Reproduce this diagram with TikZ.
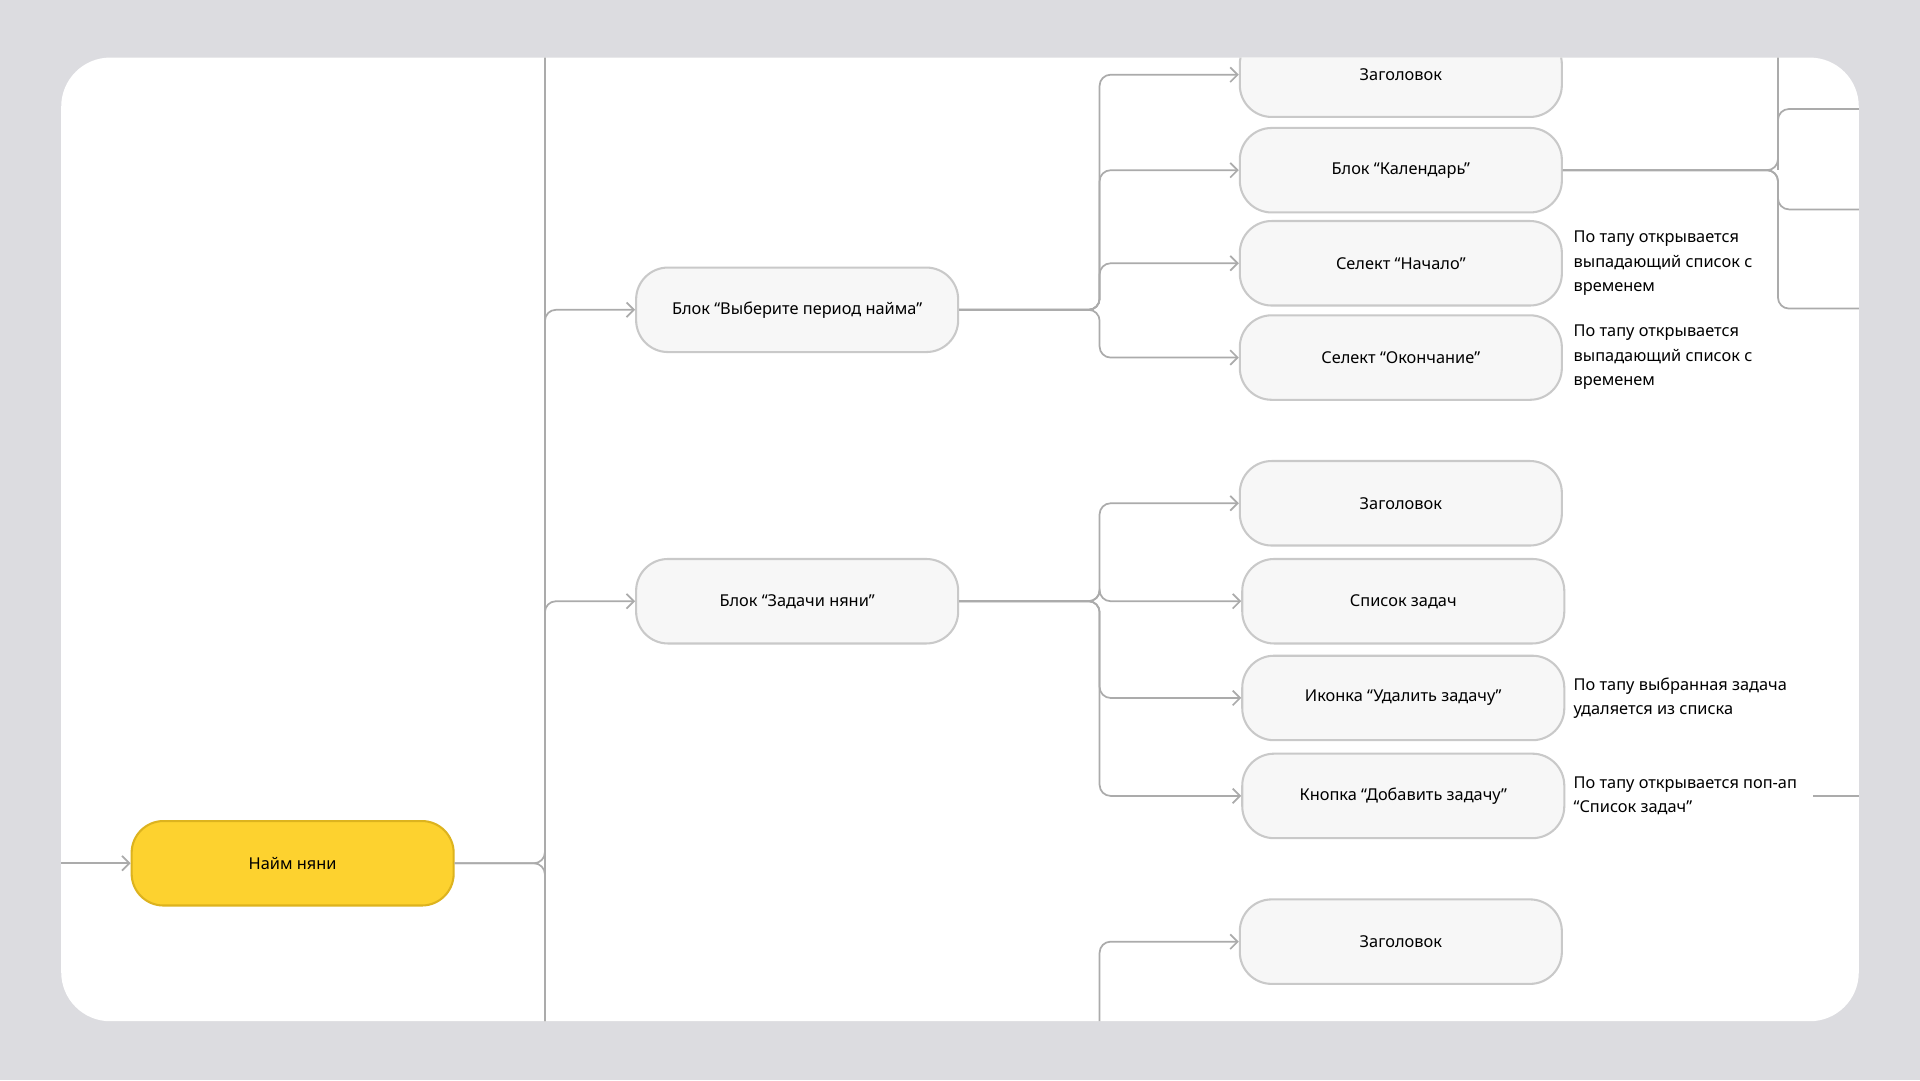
\documentclass[tikz,border=0pt]{standalone}
\usepackage{fontspec}
\setmainfont{Noto Sans}
\usepackage{tikz}
\usetikzlibrary{arrows.meta}
\definecolor{bggray}{HTML}{DCDCE0}
\definecolor{boxfill}{HTML}{F7F7F7}
\definecolor{boxdraw}{HTML}{C9C9C9}
\definecolor{linegray}{HTML}{ABABAB}
\definecolor{rootfill}{HTML}{FDD22F}
\definecolor{rootdraw}{HTML}{DDB31E}

\tikzset{
  block/.style={draw=boxdraw, line width=2.4pt, fill=boxfill, rounded corners=1.3cm,
    minimum width=13.15cm, minimum height=3.45cm, font=\fontsize{19}{24}\selectfont},
  rootbox/.style={block, draw=rootdraw, fill=rootfill},
  note/.style={anchor=west, align=left, inner sep=0pt, font=\fontsize{19}{28.5}\selectfont},
  link/.style={draw=linegray, line width=2pt, rounded corners=0.45cm},
  arr/.style={link, -{Straight Barb[length=0.3cm, width=0.6cm, line width=2pt]}}
}

\begin{document}
\begin{tikzpicture}[x=0.05cm, y=-0.05cm]
        \fill[bggray] (0,0) rectangle (1568,882);
        \useasboundingbox (0,0) rectangle (1568,882);
        \fill[white, rounded corners=2cm] (50,47) rectangle (1518,834);

        \begin{scope}
        \clip[rounded corners=2cm] (50,47) rectangle (1518,834);

        % Узлы
        \node[rootbox] (root) at (239,705) {Найм няни};
        \node[block] (period) at (651,253) {Блок “Выберите период найма”};
        \node[block] (tasks)  at (651,491) {Блок “Задачи няни”};

        \node[block] (head1)  at (1144,61)  {Заголовок};
        \node[block] (cal)    at (1144,139) {Блок “Календарь”};
        \node[block] (start)  at (1144,215) {Селект “Начало”};
        \node[block] (finish) at (1144,292) {Селект “Окончание”};

        \node[block] (head2)  at (1144,411) {Заголовок};
        \node[block] (list)   at (1146,491) {Список задач};
        \node[block] (remove) at (1146,570) {Иконка “Удалить задачу”};
        \node[block] (add)    at (1146,650) {Кнопка “Добавить задачу”};

        \node[block] (head3)  at (1144,769) {Заголовок};

        % Подписи
        \node[note] (nstart)  at (1285,215) {По тапу открывается\\выпадающий список с\\временем};
        \node[note] (nfinish) at (1285,292) {По тапу открывается\\выпадающий список с\\временем};
        \node[note] (nremove) at (1285,570) {По тапу выбранная задача\\удаляется из списка};
        \node[note] (nadd)    at (1285,650) {По тапу открывается поп-ап\\“Список задач”};

        \coordinate (in) at (40,705);
        \coordinate (out) at (1481,650);
        \coordinate (edge) at (1530,650);

        % Линии
        \draw[arr] (in) -- (root.west);
        \draw[link] (445,30) -- (445,850);
        \draw[link] (root.east) -- (445,705) -- (445,840);
        \draw[arr] (root.east) -- (445,705) |- (period.west);
        \draw[arr] (445,600) |- (tasks.west);

        \foreach \n in {head1,cal,start,finish}
          \draw[arr] (period.east) -- (898,253) |- (\n.west);
        \foreach \n in {head2,list,remove,add}
          \draw[arr] (tasks.east) -- (898,491) |- (\n.west);
        \draw[arr] (898,840) |- (head3.west);

        \draw[link] (cal.east) -- (1452,139) |- (1530,89);
        \draw[link] (cal.east) -- (1452,139) |- (1530,171);
        \draw[link] (cal.east) -- (1452,139) |- (1530,252);
        \draw[link] (1452,30) -- (1452,139);
        \draw[link] (out) -- (edge);
        \end{scope}
    \end{tikzpicture}
\end{document}
